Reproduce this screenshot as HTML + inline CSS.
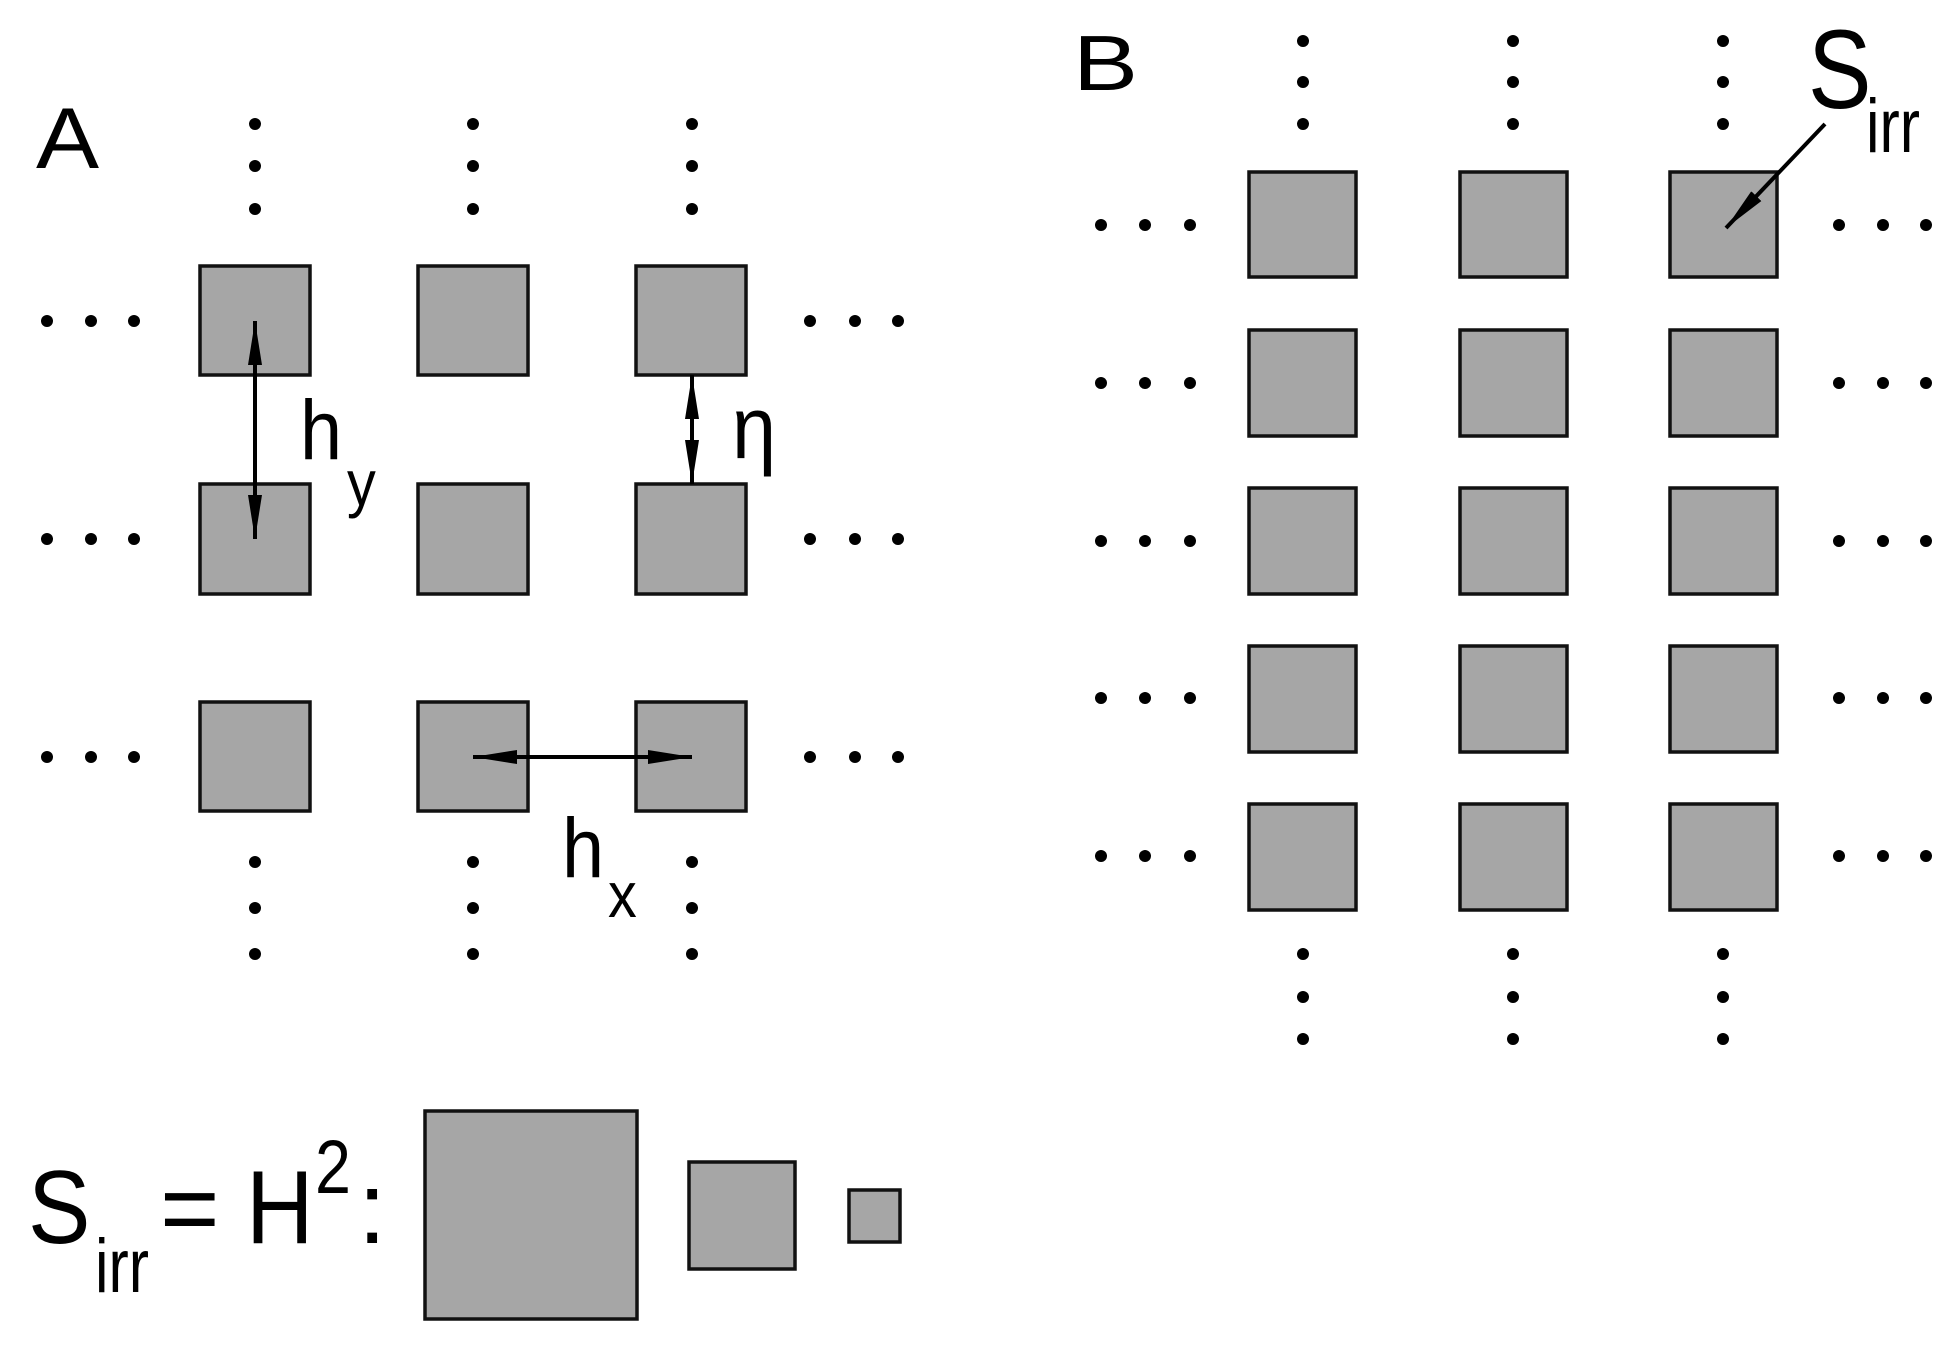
<!DOCTYPE html>
<html><head><meta charset="utf-8"><style>
html,body{margin:0;padding:0;background:#fff}
svg{display:block}
text{font-family:"Liberation Sans",sans-serif;fill:#000}
</style></head><body>
<svg width="1951" height="1346" viewBox="0 0 1951 1346" xmlns="http://www.w3.org/2000/svg">
<defs>
<marker id="ah" viewBox="0 0 44 16" refX="44" refY="8" markerWidth="44" markerHeight="16" markerUnits="userSpaceOnUse" orient="auto-start-reverse">
<path d="M0,1 L44,8 L0,15 Z" fill="#000"/>
</marker>
</defs>
<g fill="#a6a6a6" stroke="#111" stroke-width="3.5">
<rect x="200" y="266" width="110" height="109"/>
<rect x="418" y="266" width="110" height="109"/>
<rect x="636" y="266" width="110" height="109"/>
<rect x="200" y="484" width="110" height="110"/>
<rect x="418" y="484" width="110" height="110"/>
<rect x="636" y="484" width="110" height="110"/>
<rect x="200" y="702" width="110" height="109"/>
<rect x="418" y="702" width="110" height="109"/>
<rect x="636" y="702" width="110" height="109"/>
<rect x="425" y="1111" width="212" height="208"/>
<rect x="689" y="1162" width="106" height="107"/>
<rect x="849" y="1190" width="51" height="52"/>
<rect x="1249" y="172" width="107" height="105"/><rect x="1460" y="172" width="107" height="105"/><rect x="1670" y="172" width="107" height="105"/>
<rect x="1249" y="330" width="107" height="106"/><rect x="1460" y="330" width="107" height="106"/><rect x="1670" y="330" width="107" height="106"/>
<rect x="1249" y="488" width="107" height="106"/><rect x="1460" y="488" width="107" height="106"/><rect x="1670" y="488" width="107" height="106"/>
<rect x="1249" y="646" width="107" height="106"/><rect x="1460" y="646" width="107" height="106"/><rect x="1670" y="646" width="107" height="106"/>
<rect x="1249" y="804" width="107" height="106"/><rect x="1460" y="804" width="107" height="106"/><rect x="1670" y="804" width="107" height="106"/>
</g>
<g fill="#000">
<circle cx="255" cy="124" r="6"/><circle cx="255" cy="166" r="6"/><circle cx="255" cy="209" r="6"/>
<circle cx="473" cy="124" r="6"/><circle cx="473" cy="166" r="6"/><circle cx="473" cy="209" r="6"/>
<circle cx="692" cy="124" r="6"/><circle cx="692" cy="166" r="6"/><circle cx="692" cy="209" r="6"/>
<circle cx="255" cy="862" r="6"/><circle cx="255" cy="908" r="6"/><circle cx="255" cy="954" r="6"/>
<circle cx="473" cy="862" r="6"/><circle cx="473" cy="908" r="6"/><circle cx="473" cy="954" r="6"/>
<circle cx="692" cy="862" r="6"/><circle cx="692" cy="908" r="6"/><circle cx="692" cy="954" r="6"/>
<circle cx="47" cy="321" r="6"/><circle cx="91" cy="321" r="6"/><circle cx="134" cy="321" r="6"/>
<circle cx="47" cy="539" r="6"/><circle cx="91" cy="539" r="6"/><circle cx="134" cy="539" r="6"/>
<circle cx="47" cy="757" r="6"/><circle cx="91" cy="757" r="6"/><circle cx="134" cy="757" r="6"/>
<circle cx="810" cy="321" r="6"/><circle cx="855" cy="321" r="6"/><circle cx="898" cy="321" r="6"/>
<circle cx="810" cy="539" r="6"/><circle cx="855" cy="539" r="6"/><circle cx="898" cy="539" r="6"/>
<circle cx="810" cy="757" r="6"/><circle cx="855" cy="757" r="6"/><circle cx="898" cy="757" r="6"/>
<circle cx="1303" cy="41" r="6"/><circle cx="1303" cy="82" r="6"/><circle cx="1303" cy="124" r="6"/>
<circle cx="1513" cy="41" r="6"/><circle cx="1513" cy="82" r="6"/><circle cx="1513" cy="124" r="6"/>
<circle cx="1723" cy="41" r="6"/><circle cx="1723" cy="82" r="6"/><circle cx="1723" cy="124" r="6"/>
<circle cx="1303" cy="954" r="6"/><circle cx="1303" cy="997" r="6"/><circle cx="1303" cy="1039" r="6"/>
<circle cx="1513" cy="954" r="6"/><circle cx="1513" cy="997" r="6"/><circle cx="1513" cy="1039" r="6"/>
<circle cx="1723" cy="954" r="6"/><circle cx="1723" cy="997" r="6"/><circle cx="1723" cy="1039" r="6"/>
<g id="lr">
<circle cx="1101" cy="225" r="6"/><circle cx="1145" cy="225" r="6"/><circle cx="1190" cy="225" r="6"/>
<circle cx="1839" cy="225" r="6"/><circle cx="1883" cy="225" r="6"/><circle cx="1926" cy="225" r="6"/>
</g>
<use href="#lr" y="158"/><use href="#lr" y="316"/><use href="#lr" y="473"/><use href="#lr" y="631"/>
</g>
<g stroke="#000" stroke-width="4" fill="none">
<line x1="255" y1="321" x2="255" y2="539" marker-start="url(#ah)" marker-end="url(#ah)"/>
<line x1="692" y1="375" x2="692" y2="484" marker-start="url(#ah)" marker-end="url(#ah)"/>
<line x1="473" y1="757" x2="692" y2="757" marker-start="url(#ah)" marker-end="url(#ah)"/>
<line x1="1825" y1="124" x2="1726" y2="228" marker-end="url(#ah)"/>
</g>
<text x="36" y="168" font-size="86" transform="translate(36 0) scale(1.1 1) translate(-36 0)">A</text>
<text x="1073" y="90" font-size="78" transform="translate(1073 0) scale(1.25 1) translate(-1073 0)">B</text>
<text x="300" y="459" font-size="84" transform="translate(300 0) scale(0.9 1) translate(-300 0)">h</text>
<text x="347" y="505" font-size="64" transform="translate(347 0) scale(0.9 1) translate(-347 0)">y</text>
<text x="732" y="458" font-size="88" transform="translate(732 0) scale(0.9 1) translate(-732 0)">η</text>
<text x="562" y="877" font-size="84" transform="translate(562 0) scale(0.9 1) translate(-562 0)">h</text>
<text x="608" y="917" font-size="64" transform="translate(608 0) scale(0.9 1) translate(-608 0)">x</text>
<text x="1808" y="108" font-size="112" transform="translate(1808 0) scale(0.85 1) translate(-1808 0)">S</text>
<text x="1866" y="152" font-size="76" transform="translate(1866 0) scale(0.8 1) translate(-1866 0)">irr</text>
<text x="28" y="1243" font-size="104" transform="translate(28 0) scale(0.9 1) translate(-28 0)">S</text>
<text x="95" y="1292" font-size="76" transform="translate(95 0) scale(0.8 1) translate(-95 0)">irr</text>
<text x="160" y="1243" font-size="102">=</text>
<text x="246" y="1243" font-size="104" transform="translate(246 0) scale(0.9 1) translate(-246 0)">H</text>
<text x="315" y="1193" font-size="76" transform="translate(315 0) scale(0.85 1) translate(-315 0)">2</text>
<text x="358" y="1243" font-size="102">:</text>
</svg>
</body></html>
